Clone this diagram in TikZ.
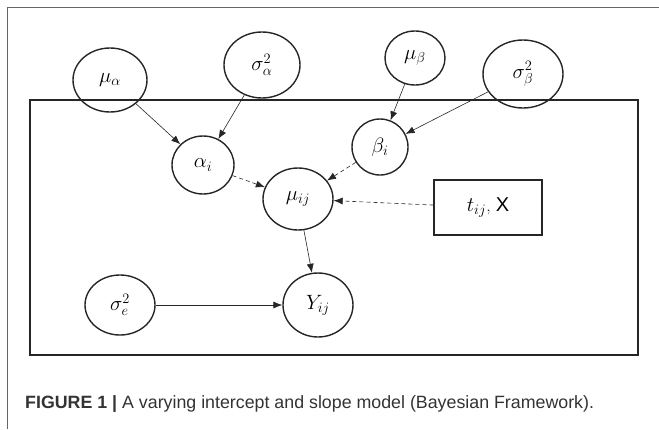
\documentclass[tikz,border=0pt]{standalone}
\usepackage{fontspec}
\setsansfont{Liberation Sans}
\usetikzlibrary{shapes.geometric,arrows.meta}

% math labels a touch larger than the 17pt design size allows
\newcommand{\vlabel}[1]{\scalebox{1.2}{$#1$}}

\begin{document}
\begin{tikzpicture}[x=1pt,y=-1pt,
    var/.style={draw=black!85,ellipse,line width=1.4pt,inner sep=0pt,font=\fontsize{17.28}{20}\selectfont},
    obs/.style={draw=black!85,rectangle,line width=1.4pt,inner sep=0pt,font=\fontsize{17.28}{20}\selectfont},
    link/.style={-{Latex[length=9pt,width=7pt]},black!85,line width=0.6pt},
    hidden/.style={link,dash pattern=on 4pt off 3pt}]
    \useasboundingbox (0,0) rectangle (659,429);
    % outer frame and plate
    \draw[black!60,line width=0.8pt] (659,7) -- (7,7) -- (7,429);
    \draw[black!85,line width=1.4pt] (30,100) rectangle (638,355);

    % hyperparameters
    \node[var,minimum width=74pt,minimum height=64pt] (mua) at (110,80) {\vlabel{\mu_\alpha}};
    \node[var,minimum width=76pt,minimum height=66pt] (siga) at (262,65) {\vlabel{\sigma_\alpha^2}};
    \node[var,minimum width=60pt,minimum height=54pt] (mub) at (415,58) {\vlabel{\mu_\beta}};
    \node[var,minimum width=80pt,minimum height=68pt] (sigb) at (523,74) {\vlabel{\sigma_\beta^2}};

    % inside the plate
    \node[var,minimum width=62pt,minimum height=58pt] (alpha) at (203,165) {\vlabel{\alpha_i}};
    \node[var,minimum width=56pt,minimum height=56pt] (beta) at (380,147) {\vlabel{\beta_i}};
    \node[var,minimum width=70pt,minimum height=62pt] (muij) at (298,199) {\vlabel{\mu_{ij}}};
    \node[obs,minimum width=108pt,minimum height=55pt] (tx) at (488,207.5) {\vlabel{t_{ij}}, \textsf{\fontsize{20}{24}\selectfont X}};
    \node[var,minimum width=70pt,minimum height=60pt] (sige) at (120,305) {\vlabel{\sigma_e^2}};
    \node[var,minimum width=70pt,minimum height=64pt] (yij) at (318,305) {\vlabel{Y_{ij}}};

    \draw[link] (mua) -- (alpha);
    \draw[link] (siga) -- (alpha);
    \draw[link] (mub) -- (beta);
    \draw[link] (sigb) -- (beta);
    \draw[hidden] (alpha) -- (muij);
    \draw[hidden] (beta) -- (muij);
    \draw[hidden] (tx) -- (muij);
    \draw[link] (muij) -- (yij);
    \draw[link] (sige) -- (yij);

    \node[anchor=base west,inner sep=0pt,text=black!80,font=\sffamily\fontsize{17.8}{20}\selectfont] (caption) at (25,408)
        {\textbf{FIGURE 1 |} A varying intercept and slope model (Bayesian Framework).};
\end{tikzpicture}
\end{document}
